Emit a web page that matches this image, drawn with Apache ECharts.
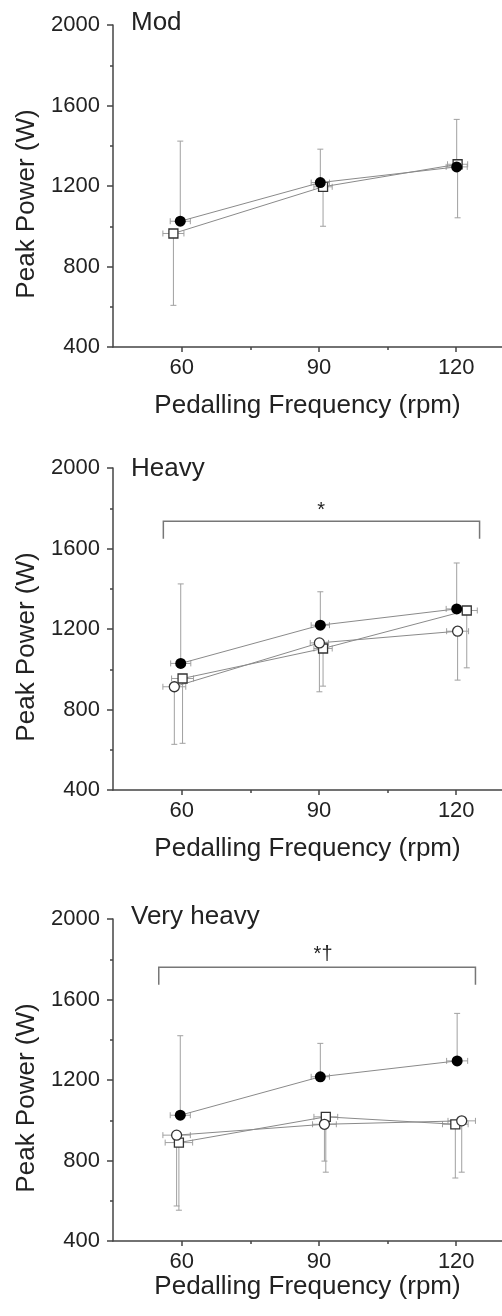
<!DOCTYPE html>
<html>
<head>
<meta charset="utf-8">
<script src="https://cdn.jsdelivr.net/npm/echarts@6/dist/echarts.min.js"></script>
<style>
  html, body { margin: 0; padding: 0; background: #fff; }
  #chart { width: 502px; height: 1316px; }
</style>
</head>
<body>
<div id="chart"></div>
<script>
// panel titles
var panelNames = ["Mod", "Heavy", "Very heavy"];
var xTicks = [60, 90, 120];
var xMinorTicks = [75, 105];

// filled circles (SD drawn upward)
var ctrlX = [[59.7, 90.3, 120.1], [59.8, 90.3, 120.1], [59.7, 90.3, 120.2]];
var ctrlY = [[1025, 1217, 1295], [1029, 1219, 1300], [1025, 1216, 1295]];
var ctrlSD = [[398, 166, 236], [395, 166, 228], [395, 166, 236]];
var ctrlXSD = [[2.2, 2.0, 2.3], [2.2, 2.0, 2.3], [2.2, 2.0, 2.3]];

// open circles (SD drawn downward)
var circX = [[], [58.4, 90.1, 120.3], [58.9, 91.2, 121.2]];
var circY = [[], [913, 1131, 1189], [926, 980, 997]];
var circSD = [[], [286, 243, 243], [352, 183, 255]];
var circXSD = [[], [2.5, 2.0, 2.4], [3.0, 2.6, 3.0]];

// open squares (SD drawn downward)
var sqX = [[58.2, 90.9, 120.3], [60.2, 90.9, 122.3], [59.4, 91.5, 119.8]];
var sqY = [[964, 1196, 1308], [954, 1103, 1292], [889, 1017, 980]];
var sqSD = [[357, 196, 266], [322, 187, 285], [336, 275, 267]];
var sqXSD = [[2.3, 2.0, 2.2], [2.4, 2.0, 2.3], [3.0, 2.6, 2.8]];

// significance brackets: [x start, x end, bar level, end of legs]
var brackets = [null, [56.0, 125.1, 1735, 1649], [55.0, 124.2, 1760, 1673]];
var markPos = [null, [90.5, 1791], [90.9, 1824]];
var markText = ["", "*", "*\u2020"];

var gridTops = [25, 468, 919];
var titleTops = [10, 456, 904];
var xNameGaps = [46, 46, 31];
var FONT = "Liberation Sans, Arial, sans-serif";

var chart = echarts.init(document.getElementById("chart"));

function renderErr(params, api) {
  var x = api.value(0), y = api.value(1), xsd = api.value(2), ysd = api.value(3), dir = api.value(4);
  var c = api.coord([x, y]);
  var e = api.coord([x, y + dir * ysd]);
  var l = api.coord([x - xsd, y]);
  var r = api.coord([x + xsd, y]);
  var cap = 3;
  var st = { stroke: "#a0a0a0", lineWidth: 1 };
  return {
    type: "group",
    children: [
      { type: "line", shape: { x1: c[0], y1: c[1], x2: e[0], y2: e[1] }, style: st },
      { type: "line", shape: { x1: e[0] - cap, y1: e[1], x2: e[0] + cap, y2: e[1] }, style: st },
      { type: "line", shape: { x1: l[0], y1: l[1], x2: r[0], y2: r[1] }, style: st },
      { type: "line", shape: { x1: l[0], y1: l[1] - cap, x2: l[0], y2: l[1] + cap }, style: st },
      { type: "line", shape: { x1: r[0], y1: r[1] - cap, x2: r[0], y2: r[1] + cap }, style: st }
    ]
  };
}

function renderBracket(params, api) {
  var a = api.coord([api.value(0), api.value(2)]);
  var b = api.coord([api.value(1), api.value(2)]);
  var a2 = api.coord([api.value(0), api.value(3)]);
  var b2 = api.coord([api.value(1), api.value(3)]);
  return {
    type: "polyline",
    shape: { points: [a2, a, b, b2] },
    style: { stroke: "#777", lineWidth: 1.5, fill: null }
  };
}

function makeMarkRenderer(text) {
  return function (params, api) {
    var p = api.coord([api.value(0), api.value(1)]);
    return {
      type: "text",
      x: p[0], y: p[1],
      style: {
        text: text, fill: "#222", font: "20px " + FONT,
        align: "center", verticalAlign: "middle"
      }
    };
  };
}

function zip(xs, ys) {
  var out = [];
  for (var i = 0; i < xs.length; i++) out.push([xs[i], ys[i]]);
  return out;
}
function errRows(xs, ys, xsd, ysd, dir) {
  var out = [];
  for (var i = 0; i < xs.length; i++) out.push([xs[i], ys[i], xsd[i], ysd[i], dir]);
  return out;
}

var grids = [], xAxes = [], yAxes = [], series = [], titles = [];

for (var p = 0; p < 3; p++) {
  grids.push({ left: 113, top: gridTops[p], width: 394, height: 322 });
  xAxes.push({
    type: "value", gridIndex: p, min: 45, max: 130,
    name: "Pedalling Frequency (rpm)", nameLocation: "middle", nameGap: xNameGaps[p],
    nameTextStyle: { fontSize: 26, color: "#222", fontFamily: FONT },
    axisLine: { lineStyle: { color: "#444", width: 1.5 } },
    axisTick: { customValues: xTicks, length: 5, lineStyle: { color: "#444", width: 1.5 } },
    axisLabel: { customValues: xTicks, fontSize: 22, color: "#222", fontFamily: FONT, margin: 10 },
    splitLine: { show: false }
  });
  xAxes.push({
    type: "value", gridIndex: p, min: 45, max: 130, position: "bottom",
    axisLine: { show: false },
    axisTick: { customValues: xMinorTicks, length: 3, lineStyle: { color: "#444", width: 1.5 } },
    axisLabel: { show: false },
    splitLine: { show: false }
  });
  yAxes.push({
    type: "value", gridIndex: p, min: 400, max: 2000, interval: 400,
    name: "Peak Power (W)", nameLocation: "middle", nameGap: 72,
    nameTextStyle: { fontSize: 26, color: "#222", fontFamily: FONT, padding: [0, 36, 0, 0] },
    axisLine: { show: true, lineStyle: { color: "#444", width: 1.5 } },
    axisTick: { show: true, length: 6, lineStyle: { color: "#444", width: 1.5 } },
    minorTick: { show: true, splitNumber: 2, length: 3, lineStyle: { color: "#444", width: 1.5 } },
    axisLabel: {
      fontSize: 22, color: "#222", fontFamily: FONT, margin: 13,
      formatter: function (v) { return String(v); }
    },
    splitLine: { show: false }
  });
  titles.push({
    text: panelNames[p], left: 131, top: titleTops[p], padding: 0,
    textStyle: { fontSize: 26, fontWeight: "normal", color: "#222", fontFamily: FONT }
  });

  var xi = p * 2;
  // error bars
  series.push({
    type: "custom", xAxisIndex: xi, yAxisIndex: p, z: 1, silent: true,
    renderItem: renderErr, encode: { x: 0, y: 1 },
    data: errRows(ctrlX[p], ctrlY[p], ctrlXSD[p], ctrlSD[p], 1)
      .concat(errRows(circX[p], circY[p], circXSD[p], circSD[p], -1))
      .concat(errRows(sqX[p], sqY[p], sqXSD[p], sqSD[p], -1))
  });
  var lineStyle = { color: "#8a8a8a", width: 1 };
  series.push({
    type: "line", xAxisIndex: xi, yAxisIndex: p, z: 3, silent: true,
    data: zip(sqX[p], sqY[p]), symbol: "rect", symbolSize: 9,
    itemStyle: { color: "#fff", borderColor: "#333", borderWidth: 1.3 },
    lineStyle: lineStyle
  });
  if (circX[p].length) {
    series.push({
      type: "line", xAxisIndex: xi, yAxisIndex: p, z: 3, silent: true,
      data: zip(circX[p], circY[p]), symbol: "circle", symbolSize: 10,
      itemStyle: { color: "#fff", borderColor: "#333", borderWidth: 1.3 },
      lineStyle: lineStyle
    });
  }
  series.push({
    type: "line", xAxisIndex: xi, yAxisIndex: p, z: 4, silent: true,
    data: zip(ctrlX[p], ctrlY[p]), symbol: "circle", symbolSize: 11,
    itemStyle: { color: "#000", borderColor: "#000", borderWidth: 0 },
    lineStyle: lineStyle
  });
  if (brackets[p]) {
    series.push({
      type: "custom", xAxisIndex: xi, yAxisIndex: p, z: 2, silent: true,
      renderItem: renderBracket, encode: { x: [0, 1], y: [2, 3] },
      data: [brackets[p]]
    });
    series.push({
      type: "custom", xAxisIndex: xi, yAxisIndex: p, z: 2, silent: true,
      renderItem: makeMarkRenderer(markText[p]), encode: { x: 0, y: 1 },
      data: [markPos[p]]
    });
  }
}

chart.setOption({
  animation: false,
  backgroundColor: "#fff",
  textStyle: { fontFamily: FONT },
  title: titles,
  grid: grids,
  xAxis: xAxes,
  yAxis: yAxes,
  series: series
});
</script>
</body>
</html>
